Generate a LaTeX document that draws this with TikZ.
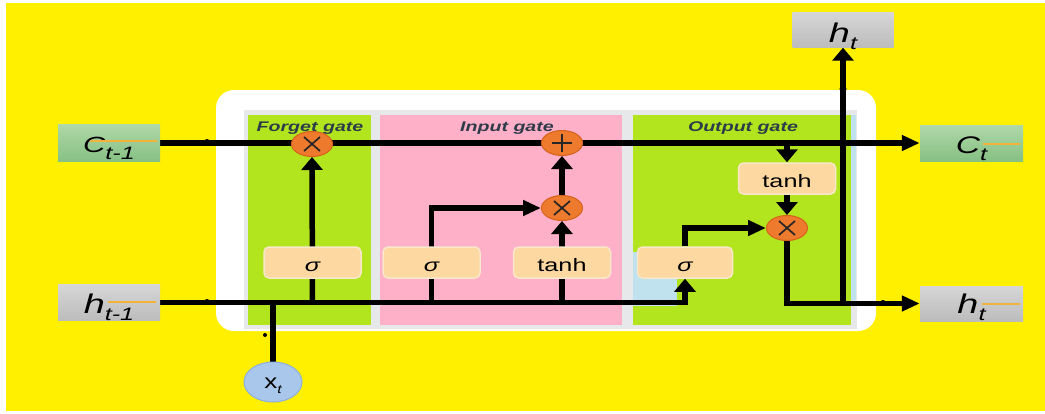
\documentclass[tikz,border=0pt]{standalone}
\usepackage{fontspec}
\setmainfont{Liberation Sans}
\usetikzlibrary{arrows.meta,shapes.geometric}
\pgfdeclarelayer{back}
\pgfdeclarelayer{wires}
\pgfsetlayers{back,wires,main}
\definecolor{bgyellow}{HTML}{FFF000}
\definecolor{gategreen}{HTML}{B3E51E}
\definecolor{gatepink}{HTML}{FFB0C9}
\definecolor{panelgray}{HTML}{E6E8EA}
\definecolor{lightblue}{HTML}{BFE2EE}
\definecolor{opfill}{HTML}{EE7A2E}
\definecolor{opline}{HTML}{D6621C}
\definecolor{actfill}{HTML}{FDD8A0}
\definecolor{actline}{HTML}{F8E7CB}
\definecolor{labelcol}{HTML}{2E3B49}
\definecolor{strip}{HTML}{F3B23A}
\definecolor{xtfill}{HTML}{A9C7EA}
\definecolor{xtline}{HTML}{8EAEDB}
\tikzset{
  wire/.style={line width=5.5pt, black, line join=miter},
  varr/.style={wire, -{Triangle[length=13pt,width=21pt]}},
  harr/.style={wire, -{Triangle[length=18pt,width=15pt]}},
  cbox/.style={rectangle, inner sep=0pt, minimum width=102pt, minimum height=37pt,
    top color=green!22!black!0!white!0!gboxtop, bottom color=gboxbot, text=black},
  hbox/.style={rectangle, inner sep=0pt, minimum width=102pt, minimum height=36pt,
    top color=hboxtop, bottom color=hboxbot, text=black},
  actbox/.style={rectangle, rounded corners=5pt, inner sep=0pt, minimum width=97pt,
    minimum height=31pt, fill=actfill, draw=actline, line width=1.5pt,
    text height=17pt, text depth=0pt},
  opnode/.style={ellipse, inner sep=0pt, minimum width=41pt, minimum height=25pt,
    fill=opfill, draw=opline, line width=1pt},
  timesop/.style={opnode, path picture={
    \draw[line width=1.7pt, black!85]
      ([xshift=-8pt,yshift=-7pt]path picture bounding box.center) --
      ([xshift=8pt,yshift=7pt]path picture bounding box.center)
      ([xshift=-8pt,yshift=7pt]path picture bounding box.center) --
      ([xshift=8pt,yshift=-7pt]path picture bounding box.center);}},
  plusop/.style={opnode, path picture={
    \draw[line width=1.7pt, black!85]
      ([xshift=-10pt]path picture bounding box.center) --
      ([xshift=10pt]path picture bounding box.center)
      ([yshift=-9pt]path picture bounding box.center) --
      ([yshift=9pt]path picture bounding box.center);}},
  gatelabel/.style={anchor=base, inner sep=0pt, text=labelcol,
    font=\fontsize{14}{14}\selectfont\bfseries\itshape},
  dot/.style={fill=black}
}
\colorlet{gboxtop}{green!30!black!0!white}
\definecolor{gboxtop}{HTML}{AFD8A8}
\definecolor{gboxbot}{HTML}{86C083}
\definecolor{hboxtop}{HTML}{D6D6D6}
\definecolor{hboxbot}{HTML}{BCBCBC}
\newcommand{\sx}[1]{\scalebox{1.4}[1]{#1}}
\begin{document}
\begin{tikzpicture}[x=1pt,y=-1pt]
\useasboundingbox (0,0) rectangle (1045,413);
\begin{pgfonlayer}{back}
  \fill[white] (0,0) rectangle (1045,413);
  \fill[bgyellow] (6,3) rectangle (1045,411);
  \fill[white, rounded corners=18pt] (216,90) rectangle (876,331);
  \fill[panelgray] (244,110) rectangle (857,329);
  \fill[gategreen] (248,115) rectangle (371,325);
  \fill[gatepink] (380,115) rectangle (622,325);
  \fill[gategreen] (633,115) rectangle (851,325);
  \fill[lightblue] (851,115) rectangle (856,300);
  \fill[lightblue] (633,252) rectangle (677,306);
\end{pgfonlayer}

% outer boxes
\node[cbox, text height=18pt, text depth=0pt] (cin) at (109,143)
  {\sx{\itshape\fontsize{22}{22}\selectfont C\raisebox{-7pt}{\fontsize{18}{18}\selectfont t-1}}};
\node[hbox, text height=21pt, text depth=0pt] (hin) at (109,302.5)
  {\sx{\itshape\fontsize{27}{27}\selectfont h\raisebox{-7pt}{\fontsize{18}{18}\selectfont t-1}}};
\node[hbox, minimum width=101pt, minimum height=35pt, text height=24pt, text depth=0pt] (htop) at (843,30)
  {\sx{\itshape\fontsize{27}{27}\selectfont h\raisebox{-7pt}{\fontsize{18}{18}\selectfont t}}};
\node[cbox, minimum width=103pt, minimum height=36pt, text height=20pt, text depth=0pt] (cout) at (971.5,143)
  {\sx{\itshape\fontsize{24}{24}\selectfont C\raisebox{-7pt}{\fontsize{18}{18}\selectfont t}}};
\node[hbox, minimum width=103pt, minimum height=35pt, text height=19pt, text depth=0pt] (hout) at (971.5,303.5)
  {\sx{\itshape\fontsize{27}{27}\selectfont h\raisebox{-7pt}{\fontsize{18}{18}\selectfont t}}};
\node[ellipse, inner sep=0pt, minimum width=58pt, minimum height=40pt, fill=xtfill, draw=xtline,
  line width=1pt, text height=12pt, text depth=0pt] (xt) at (273,382)
  {\scalebox{1.3}[1]{\fontsize{20}{20}\selectfont x\raisebox{-5pt}{\fontsize{12}{12}\selectfont\itshape t}}};

% decorative strokes in the boxes
\draw[strip, line width=1.3pt] (90,141) -- (157,141);
\draw[strip, line width=1.3pt] (108,302) -- (156,302);
\draw[strip, line width=1.3pt] (983,144) -- (1020,144);
\draw[strip, line width=1.3pt] (982,304) -- (1020,304);

% gate labels
\node[gatelabel] (lf) at (310,131) {\sx{Forget gate}};
\node[gatelabel] (li) at (507,131) {\sx{Input gate}};
\node[gatelabel] (lo) at (743,131) {\sx{Output gate}};

% operators
\node[timesop] (fx) at (312,144) {};
\node[plusop]  (ip) at (562,143) {};
\node[timesop] (ix) at (562,208) {};
\node[timesop] (ox) at (787,228) {};

% activation boxes
\node[actbox] (fs) at (312.5,262.5) {\sx{\fontsize{18}{18}\selectfont\itshape σ}};
\node[actbox] (is) at (431.5,262.5) {\sx{\fontsize{18}{18}\selectfont\itshape σ}};
\node[actbox] (it) at (562,262.5) {\sx{\fontsize{18}{18}\selectfont tanh}};
\node[actbox, minimum width=95pt] (os) at (685,262.5) {\sx{\fontsize{18}{18}\selectfont\itshape σ}};
\node[actbox] (ot) at (787,178.5) {\sx{\fontsize{18}{18}\selectfont tanh}};

\coordinate (jo) at (843,303);

\begin{pgfonlayer}{wires}
  % cell state line
  \draw[harr] (cin.east) -- (cout.west);
  % hidden state line into output sigma
  \draw[varr] (hin.east) -| (os.south);
  % input x_t
  \draw[wire] (xt.north) -- (xt |- hin.east);
  % forget gate
  \draw[varr] (fs |- hin.east) -- (fx.south);
  % input gate
  \draw[harr] (is |- hin.east) |- (ix.west);
  \draw[varr] (ix |- hin.east) -- (ix.south);
  \draw[varr] (ix.north) -- (ip.south);
  % output gate
  \draw[harr] (os.north) |- (ox.west);
  \draw[varr] (ot |- cin.east) -- (ot.north);
  \draw[varr] (ot.south) -- (ox.north);
  \draw[harr] (ox.south) |- (hout.west);
  \draw[varr] (jo) -- (htop.south);
  % small junction dots
  \fill[dot] (207,142) circle (3pt);
  \fill[dot] (207,302) circle (3pt);
  \fill[dot] (883,143) circle (3pt);
  \fill[dot] (883,303) circle (3pt);
  \fill[dot] (843,89) circle (3.5pt);
  \fill[dot] (265,335) circle (2pt);
\end{pgfonlayer}
\end{tikzpicture}
\end{document}
